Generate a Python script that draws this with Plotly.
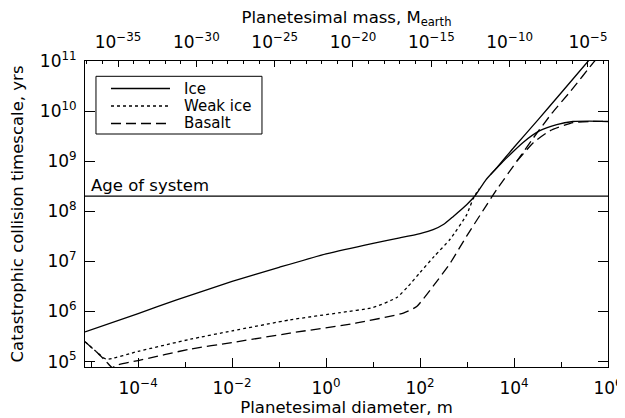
import numpy as np
import plotly.graph_objects as go

# ---------------- data ----------------
diam_range = [7.4e-6, 1.0e6]          # planetesimal diameter, m
mass_range = [7.8e-38, 1.9e-4]        # matching planetesimal mass, M_earth
time_range = [7.8e4, 1.0e11]          # timescale, yrs
age_of_system = 2.0e8

# Ice (solid) - main branch
ice_diam = [7.4e-6, 1e-4, 6.6e-4, 1e-2, 0.1, 1.0, 10, 37, 100, 190, 320, 510, 980,
            1480, 2500, 4300, 1.0e4, 3.2e4, 1.0e5, 3.8e5, 5.6e5]
ice_time = [3.9e5, 9.1e5, 1.7e6, 4.0e6, 7.6e6, 1.41e7, 2.3e7, 2.95e7, 3.6e7, 4.3e7, 5.5e7,
            7.9e7, 1.35e8, 2.04e8, 4.2e8, 7.4e8, 1.9e9, 6.6e9, 2.3e10, 1.0e11, 1.55e11]
# Ice (solid) - flattening branch
ice2_diam = [3160, 6900, 1.58e4, 3.55e4, 8.1e4, 1.8e5, 4.0e5, 1.0e6]
ice2_time = [5.4e8, 1.15e9, 2.4e9, 4.07e9, 5.4e9, 6.2e9, 6.3e9, 6.2e9]

# Weak ice (dotted)
weak_diam = [7.4e-6, 1.26e-5, 2.1e-5, 1e-4, 1.3e-3, 1e-2, 0.17, 2.0, 10, 32, 56, 100,
             200, 440, 980, 1350, 1780]
weak_time = [2.5e5, 1.6e5, 1.12e5, 1.6e5, 2.8e5, 4.1e5, 6.8e5, 9.5e5, 1.2e6, 1.9e6, 3.2e6,
             6.0e6, 1.26e7, 2.8e7, 8.5e7, 1.78e8, 2.8e8]

# Basalt (dashed) - main branch
bas_diam = [7.4e-6, 1.26e-5, 2.1e-5, 2.8e-5, 3.5e-5, 1e-4, 1.3e-3, 1e-2, 0.17, 4.5, 44,
            85, 190, 440, 980, 2240, 4270, 1.15e4, 2.5e4, 6.3e4, 1.6e5, 5.2e5, 8.0e5]
bas_time = [2.5e5, 1.6e5, 1.0e5, 7.6e4, 8.5e4, 1.05e5, 1.78e5, 2.4e5, 3.7e5, 5.9e5, 9.3e5,
            1.26e6, 3.2e6, 9.3e6, 3.2e7, 1.07e8, 2.7e8, 1.0e9, 2.8e9, 8.9e9, 2.5e10, 1.0e11,
            1.6e11]
# Basalt (dashed) - flattening branch
bas2_diam = [1.15e4, 2.57e4, 5.9e4, 1.8e5, 4.0e5, 1.0e6]
bas2_time = [1.0e9, 2.34e9, 4.07e9, 5.9e9, 6.2e9, 6.2e9]

series_names = ["Ice", "Weak ice", "Basalt"]

# tick labels
diam_ticks = [1e-4, 1e-2, 1e0, 1e2, 1e4, 1e6]
diam_ticktext = ["10<sup>\u22124</sup>", "10<sup>\u22122</sup>", "10<sup>0</sup>",
                 "10<sup>2</sup>", "10<sup>4</sup>", "10<sup>6</sup>"]
diam_minor = [1e-5, 1e-3, 1e-1, 1e1, 1e3, 1e5]
mass_ticks = [1e-35, 1e-30, 1e-25, 1e-20, 1e-15, 1e-10, 1e-5]
mass_ticktext = ["10<sup>\u221235</sup>", "10<sup>\u221230</sup>", "10<sup>\u221225</sup>",
                 "10<sup>\u221220</sup>", "10<sup>\u221215</sup>", "10<sup>\u221210</sup>",
                 "10<sup>\u22125</sup>"]
mass_minor = [10.0 ** p for p in range(-37, -3) if p % 5 != 0]
time_ticks = [1e5, 1e6, 1e7, 1e8, 1e9, 1e10, 1e11]
time_ticktext = ["10<sup>5</sup>", "10<sup>6</sup>", "10<sup>7</sup>", "10<sup>8</sup>",
                 "10<sup>9</sup>", "10<sup>10</sup>", "10<sup>11</sup>"]

# ---------------- figure ----------------
FONT = "DejaVu Sans"
LW = 1.3
SM = 0.5
styles = [dict(color="black", width=LW),
          dict(color="black", width=LW, dash="dot"),
          dict(color="black", width=LW, dash="10px,5px")]

fig = go.Figure()


def add_line(x, y, style):
    fig.add_trace(go.Scatter(x=x, y=y, mode="lines", showlegend=False,
                             line=dict(shape="spline", smoothing=SM, **style)))


add_line(ice_diam, ice_time, styles[0])
add_line(weak_diam, weak_time, styles[1])
add_line(bas_diam, bas_time, styles[2])
add_line(ice2_diam, ice2_time, styles[0])
add_line(bas2_diam, bas2_time, styles[2])
fig.add_trace(go.Scatter(x=diam_range, y=[age_of_system, age_of_system], mode="lines",
                         showlegend=False, line=dict(color="black", width=LW)))
# top axis carrier
fig.add_trace(go.Scatter(x=mass_ticks, y=[None] * len(mass_ticks), xaxis="x2",
                         mode="lines", showlegend=False, hoverinfo="skip"))

# ---- legend box (drawn in paper coordinates) ----
leg_box = dict(x0=0.021, x1=0.3384, y0=0.7614, y1=0.95)
leg_line_x = (0.0497, 0.1625)
leg_text_x = 0.1868
leg_rows_y = [0.9101, 0.8529, 0.7958]

shapes = [dict(type="rect", xref="paper", yref="paper", fillcolor="white",
               line=dict(color="black", width=1), **leg_box)]
annotations = []
for name, style, yy in zip(series_names, styles, leg_rows_y):
    shapes.append(dict(type="line", xref="paper", yref="paper",
                       x0=leg_line_x[0], x1=leg_line_x[1], y0=yy, y1=yy, line=style))
    annotations.append(dict(x=leg_text_x, y=yy, xref="paper", yref="paper", text=name,
                            showarrow=False, xanchor="left", yanchor="middle",
                            borderpad=0,
                            font=dict(family=FONT, size=15, color="black")))

annotations.append(dict(x=0.008, xref="paper", y=float(np.log10(age_of_system)), yref="y",
                        text="Age of system", showarrow=False, xanchor="left",
                        yanchor="bottom", yshift=-1,
                        font=dict(family=FONT, size=16.5, color="black")))

tickfont = dict(family=FONT, size=17, color="black")
titlefont = dict(family=FONT, size=16.5, color="black")

# page body adds an 8 px margin, so the figure is 8 px smaller than the window
fig.update_layout(
    width=617, height=410,
    margin=dict(l=77, r=17, t=53, b=51, autoexpand=False),
    paper_bgcolor="white", plot_bgcolor="white",
    font=dict(family=FONT, color="black"),
    showlegend=False,
    xaxis=dict(type="log", range=list(np.log10(diam_range)), automargin=False,
               tickmode="array", tickvals=diam_ticks, ticktext=diam_ticktext,
               ticks="inside", ticklen=9, tickwidth=1, tickcolor="black",
               minor=dict(tickmode="array", tickvals=diam_minor, ticks="inside",
                          ticklen=5, tickwidth=1, tickcolor="black", showgrid=False),
               showline=True, linecolor="black", linewidth=1, mirror=True,
               showgrid=False, zeroline=False, tickfont=tickfont,
               ticklabeloverflow="allow", ticklabelstandoff=6,
               title=dict(text="Planetesimal diameter, m", font=titlefont, standoff=2)),
    xaxis2=dict(type="log", range=list(np.log10(mass_range)), overlaying="x", side="top",
                anchor="y", automargin=False,
                tickmode="array", tickvals=mass_ticks, ticktext=mass_ticktext,
                ticks="inside", ticklen=6, tickwidth=1, tickcolor="black",
                minor=dict(tickmode="array", tickvals=mass_minor, ticks="inside",
                           ticklen=3, tickwidth=1, tickcolor="black", showgrid=False),
                showline=True, linecolor="black", linewidth=1,
                showgrid=False, zeroline=False, tickfont=tickfont,
                ticklabeloverflow="allow", ticklabelstandoff=5,
                title=dict(text="Planetesimal mass, M<sub>earth</sub>", font=titlefont,
                           standoff=12)),
    yaxis=dict(type="log", range=list(np.log10(time_range)), automargin=False,
               tickmode="array", tickvals=time_ticks, ticktext=time_ticktext,
               ticks="inside", ticklen=10, tickwidth=1, tickcolor="black",
               showline=True, linecolor="black", linewidth=1, mirror="ticks",
               showgrid=False, zeroline=False, tickfont=tickfont,
               ticklabelstandoff=4,
               title=dict(text="Catastrophic collision timescale, yrs", font=titlefont,
                          standoff=14)),
    shapes=shapes,
    annotations=annotations,
)

fig.write_html("out.html")
